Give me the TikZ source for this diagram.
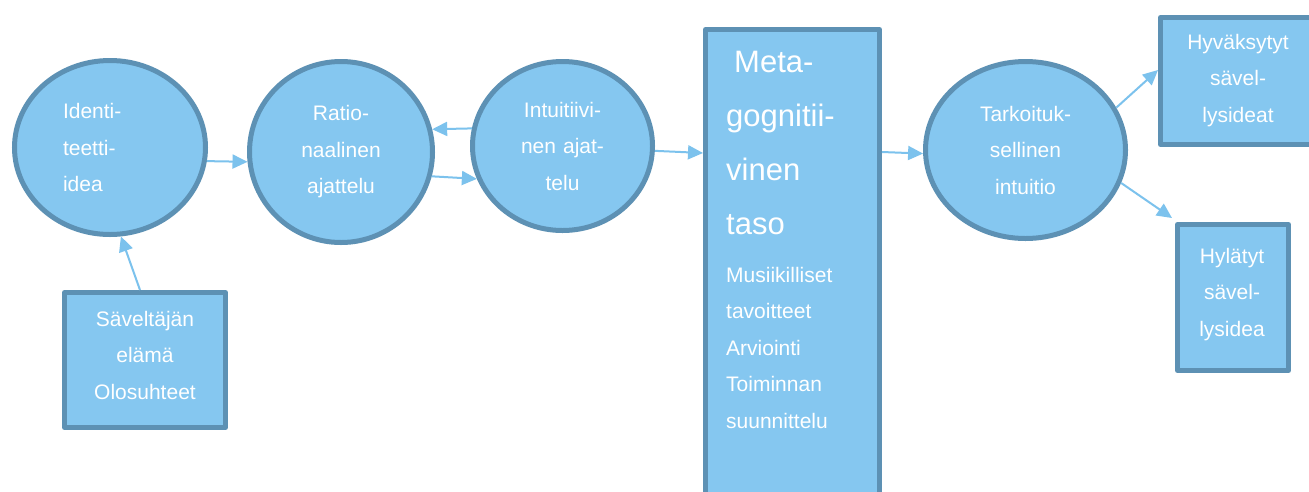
\documentclass[tikz,border=0pt]{standalone}
\usepackage{fontspec}
\setmainfont{Liberation Sans}
\usetikzlibrary{shapes.geometric,arrows.meta}
\definecolor{fillb}{RGB}{133,199,240}
\definecolor{edgeb}{RGB}{93,145,180}
\definecolor{arrowb}{RGB}{124,194,237}
\begin{document}
\begin{tikzpicture}[x=1pt,y=-1pt,
  bub/.style={ellipse, draw=edgeb, fill=fillb, line width=5pt, inner sep=0pt,
    text=white, font=\fontsize{21}{36.5}\selectfont, align=center, text width=110pt},
  boxn/.style={rectangle, draw=edgeb, fill=fillb, line width=5pt, inner sep=0pt, line join=round},
  txt/.style={inner sep=0pt, text=white, font=\fontsize{21}{36.5}\selectfont, align=center, text width=160pt},
  conn/.style={draw=arrowb, line width=2pt, -{Triangle[length=15pt,width=14pt]}}]
\useasboundingbox (0,0) rectangle (1309,491);
\clip (0,0) rectangle (1309,491);
\fill[white] (0,0) rectangle (1309,491);

% circles
\node[bub, minimum width=191pt, minimum height=174pt, text width=94pt, align=left] (c1) at (110,147.5) {Identi-\\teetti-\\idea};
\node[bub, minimum width=183pt, minimum height=181pt] (c2) at (341,152) {Ratio-\\naalinen\\ajattelu};
\node[bub, minimum width=180pt, minimum height=169pt] (c3) at (562.5,146) {Intuitiivi-\\nen ajat-\\telu};
\node[bub, minimum width=200pt, minimum height=177pt] (c4) at (1025.5,150) {Tarkoituk-\\sellinen\\intuitio};

% boxes
\node[boxn, minimum width=161pt, minimum height=135pt] (sav) at (145,360) {};
\node[boxn, minimum width=174pt, minimum height=468pt] (meta) at (792.5,263.5) {};
\node[boxn, minimum width=155pt, minimum height=127pt] (hyv) at (1238,81) {};
\node[boxn, minimum width=111pt, minimum height=146pt] (hyl) at (1233,297.5) {};

% box texts
\node[txt, anchor=base] (savt) at (145,326) {Säveltäjän\\elämä\\Olosuhteet};
\node[txt, anchor=base] (hyvt) at (1238,49) {Hyväksytyt\\sävel-\\lysideat};
\node[txt, anchor=base] (hylt) at (1232,263) {Hylätyt\\sävel-\\lysidea};
\node[inner sep=0pt, text=white, anchor=base west, text width=170pt, align=left,
  font=\fontsize{31}{54.3}\selectfont] (metat) at (726,72) {\hspace*{8pt}Meta-\\gognitii-\\vinen\\taso};
\node[inner sep=0pt, text=white, anchor=base west, text width=150pt, align=left,
  font=\fontsize{21}{36.5}\selectfont] (metal) at (726,282) {Musiikilliset\\tavoitteet\\Arviointi\\Toiminnan\\suunnittelu};

% connectors
\draw[conn] (c1.-8) -- (c2.186);
\draw[conn] (c3.169) -- (c2.14);
\draw[conn] (c2.-15) -- (c3.201);
\draw[conn] (c3.-3) -- ([shift={(0,126)}]meta.north west);
\draw[conn] ([shift={(0,125)}]meta.north east) -- (c4.182);
\draw[conn] (c4.25) -- ([shift={(0,55)}]hyv.north west);
\draw[conn] (c4.-19) -- ([shift={(-3,-4)}]hyl.north west);
\draw[conn] ([shift={(-5,0)}]sav.north) -- (c1.-83);
\end{tikzpicture}
\end{document}
